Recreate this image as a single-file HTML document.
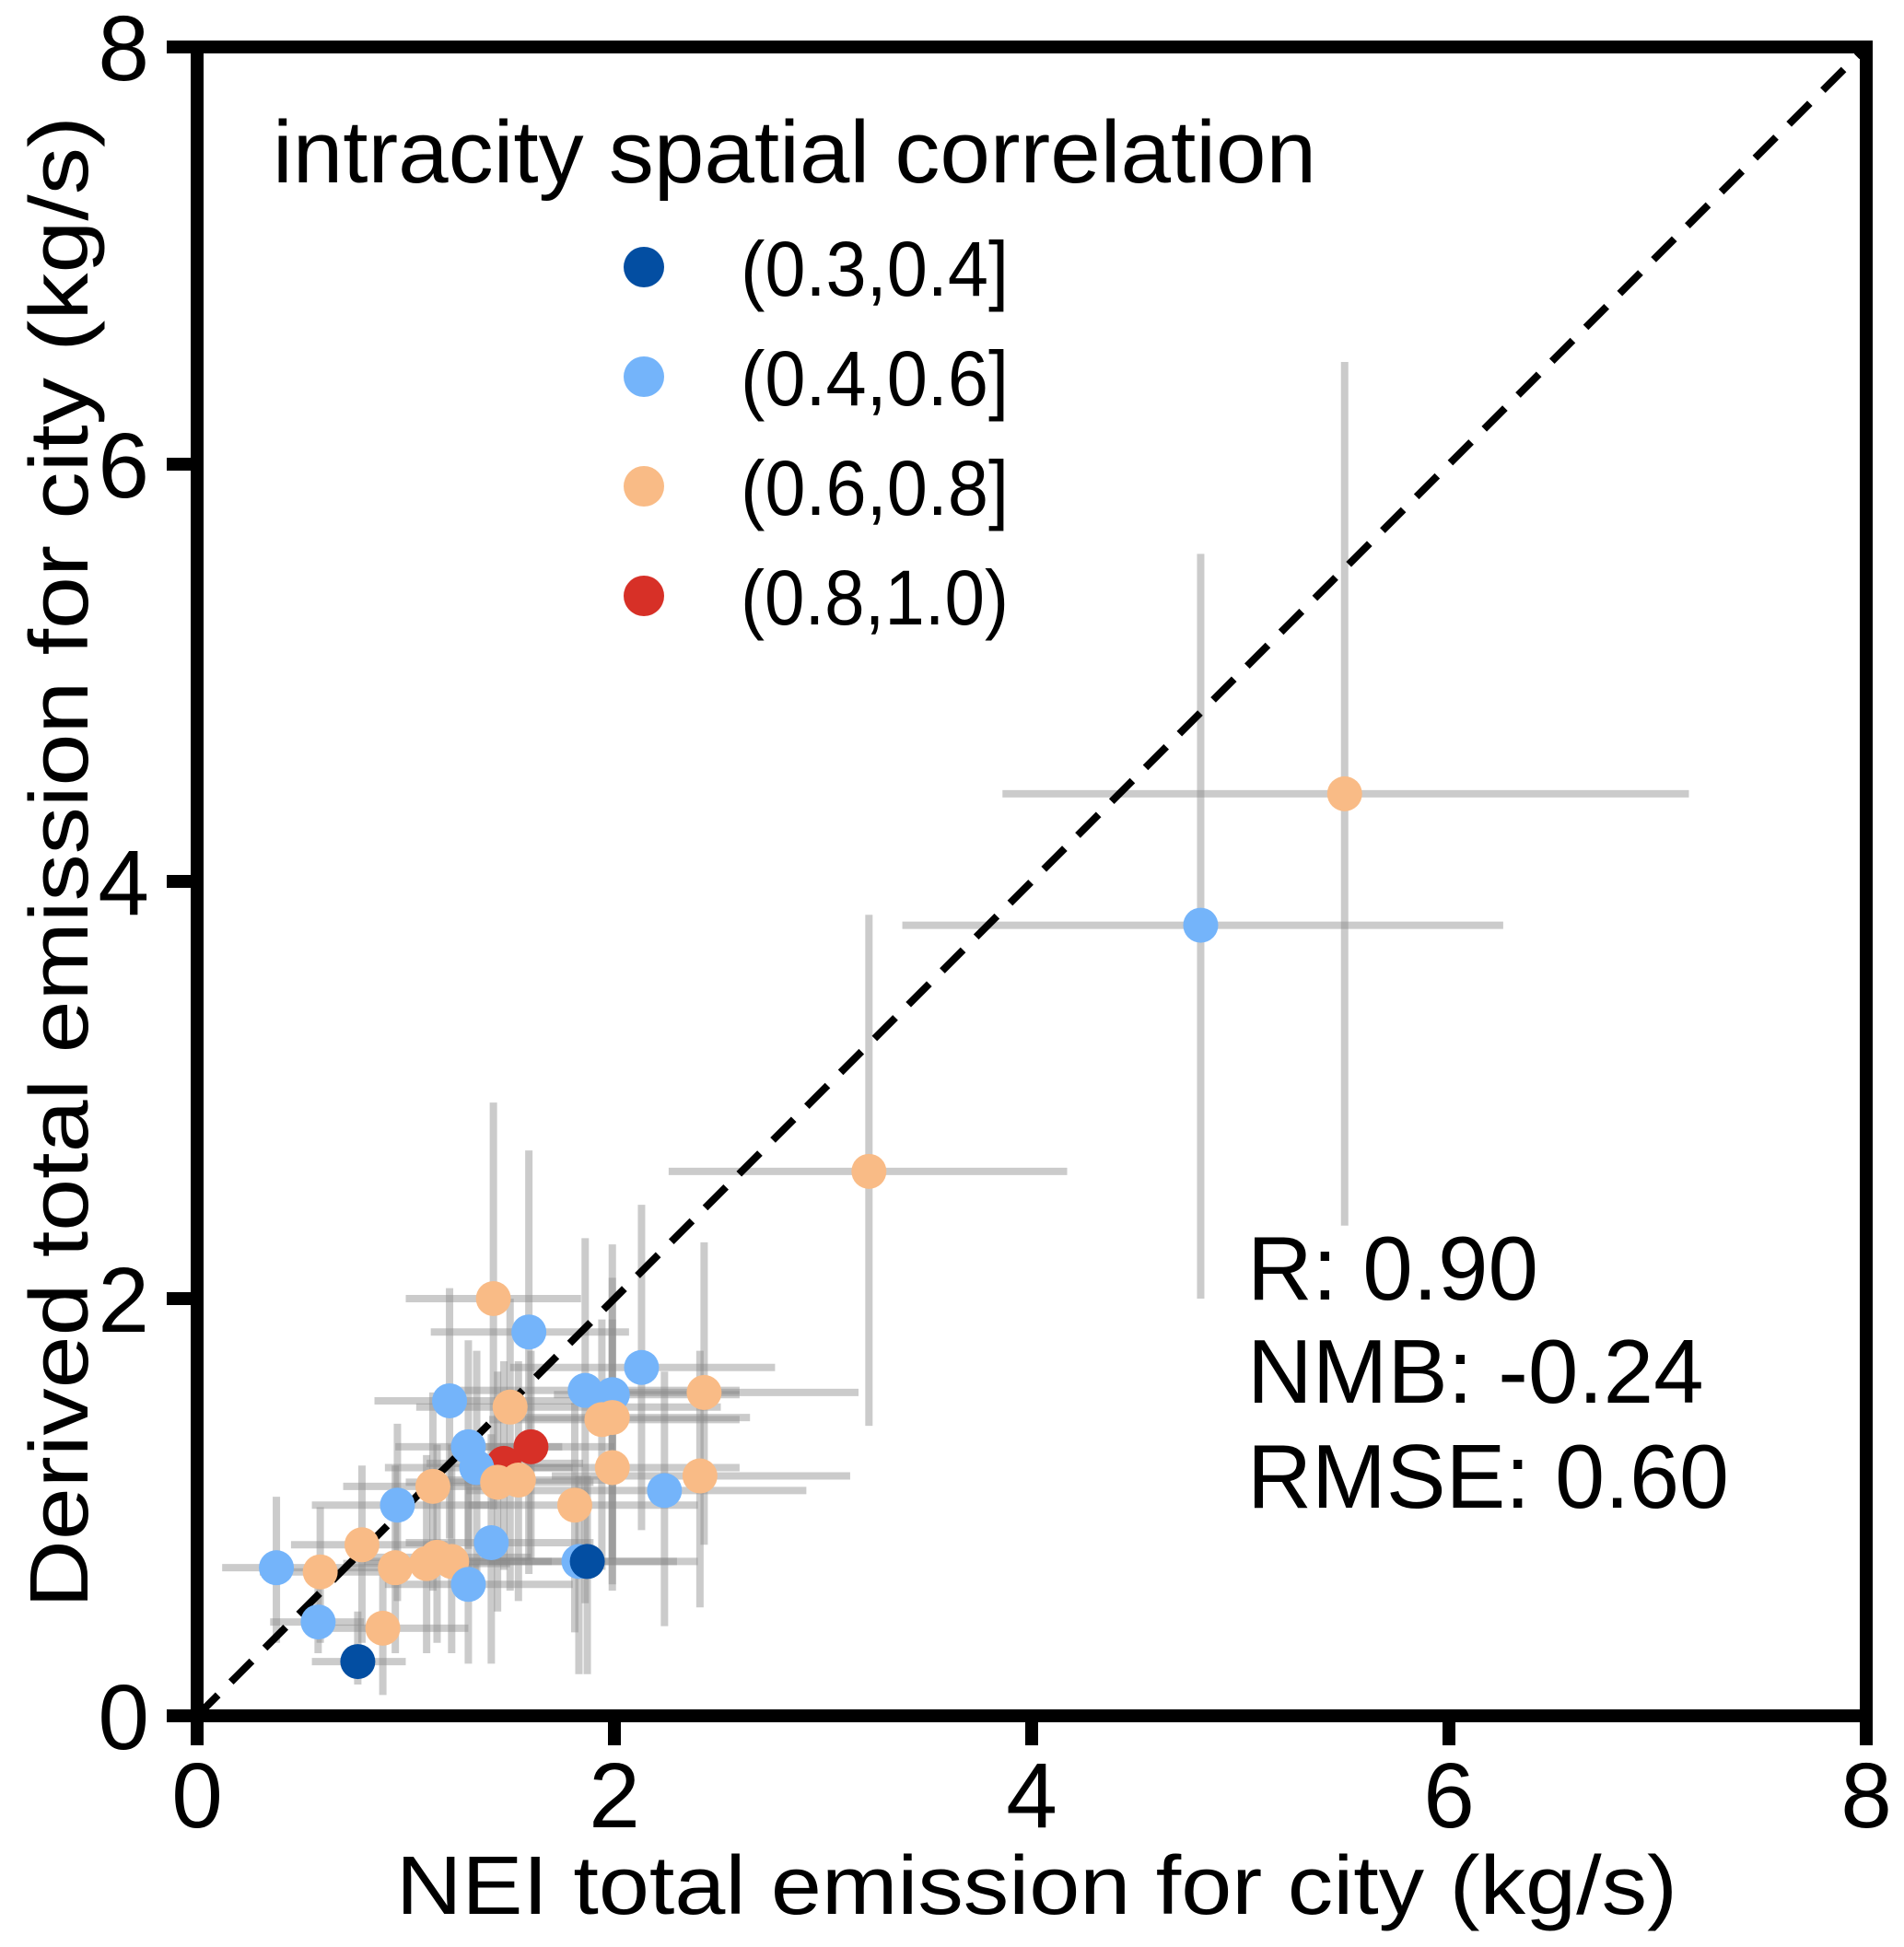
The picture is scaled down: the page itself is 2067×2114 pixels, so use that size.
<!DOCTYPE html>
<html><head><meta charset="utf-8"><style>
html,body{margin:0;padding:0;background:#fff;}
svg{display:block;font-family:"Liberation Sans",Arial,sans-serif;}
</style></head><body>
<svg id="chart" width="2067" height="2114" viewBox="0 0 2067 2114" xmlns="http://www.w3.org/2000/svg">
<g id="errs"></g>
<line id="diag" stroke="#000" stroke-width="8" stroke-dasharray="32,20"/>
<g id="pts"></g>
<g id="axes"></g>
<text x="296" y="198" font-size="96" textLength="1133" lengthAdjust="spacingAndGlyphs">intracity spatial correlation</text>
<g id="legend"></g>
<g font-size="98">
<text x="1354" y="1411">R: 0.90</text>
<text x="1354" y="1523">NMB: -0.24</text>
<text x="1354" y="1637" textLength="523" lengthAdjust="spacingAndGlyphs">RMSE: 0.60</text>
</g>
<text x="430" y="2078" font-size="90" textLength="1391" lengthAdjust="spacingAndGlyphs">NEI total emission for city (kg/s)</text>
<text transform="translate(95,936) rotate(-90)" text-anchor="middle" font-size="90" textLength="1620" lengthAdjust="spacingAndGlyphs">Derived total emission for city (kg/s)</text>
</svg>
<script>
const xTicks=[0,2,4,6,8];
const yTicks=[0,2,4,6,8];
const tickLabels=["0","2","4","6","8"];
const groupColors=["#034ea2","#74b4fa","#f9bb86","#d73027"];
const groupLabels=["(0.3,0.4]","(0.4,0.6]","(0.6,0.8]","(0.8,1.0)"];
const xVals=[5.50,4.81,3.22,1.42,1.59,2.13,1.86,1.99,2.43,1.21,1.50,1.94,1.99,1.47,1.30,1.34,1.54,1.44,1.99,2.41,2.24,1.81,1.13,0.96,0.79,1.41,1.83,1.87,0.95,1.10,1.15,1.22,1.30,0.38,0.59,0.58,0.89,0.77,1.60];
const yVals=[4.42,3.79,2.61,2.00,1.84,1.67,1.56,1.54,1.55,1.51,1.48,1.42,1.43,1.21,1.29,1.19,1.13,1.12,1.19,1.15,1.08,1.01,1.10,1.01,0.82,0.83,0.74,0.74,0.71,0.73,0.76,0.74,0.63,0.71,0.69,0.45,0.42,0.26,1.29];
const groups=[2,1,2,2,1,1,1,1,2,1,2,2,2,3,1,1,2,2,2,2,1,2,2,1,2,1,1,0,2,2,2,2,1,1,2,1,2,0,3];
const xLo=[3.86,3.38,2.26,1.00,1.12,1.50,1.25,1.71,1.90,0.85,1.05,1.40,1.45,1.10,0.95,0.90,1.15,1.00,1.50,1.70,1.29,1.30,0.70,0.55,0.45,1.00,1.30,1.40,0.60,0.70,0.75,0.80,0.90,0.12,0.30,0.35,0.55,0.55,1.25];
const xHi=[7.15,6.26,4.17,1.84,2.07,2.77,2.60,2.60,3.17,1.90,2.51,2.60,2.65,1.85,1.75,1.80,2.00,1.90,2.60,3.13,2.92,2.40,1.60,1.40,1.20,1.90,2.40,2.30,1.35,1.50,1.60,1.70,1.80,0.65,0.90,0.80,1.30,1.00,2.00];
const yLo=[2.35,2.00,1.39,0.99,0.68,0.89,0.54,0.63,0.82,0.85,0.60,0.70,0.75,0.70,0.80,0.65,0.55,0.50,0.60,0.52,0.43,0.40,0.60,0.55,0.35,0.25,0.20,0.20,0.30,0.30,0.35,0.30,0.25,0.35,0.35,0.30,0.10,0.15,0.75];
const yHi=[6.49,5.57,3.84,2.94,2.71,2.45,2.29,2.26,2.27,2.05,2.00,1.90,2.10,1.70,1.80,1.75,1.70,1.65,1.90,1.75,1.65,1.50,1.55,1.40,1.20,1.35,1.15,1.15,1.20,1.25,1.30,1.30,1.20,1.05,1.00,0.75,0.75,0.50,1.75];

const X0=214,X1=2026,Y0=1863,Y1=51,XMAX=8,YMAX=8;
const sx=v=>X0+(X1-X0)*v/XMAX;
const sy=v=>Y0-(Y0-Y1)*v/YMAX;
const NS="http://www.w3.org/2000/svg";
function mk(tag,attrs,parent){const e=document.createElementNS(NS,tag);for(const k in attrs)e.setAttribute(k,attrs[k]);parent.appendChild(e);return e;}

const errs=document.getElementById('errs');
for(let i=0;i<xVals.length;i++){
  const h=mk('line',{x1:sx(xLo[i]),x2:sx(xHi[i]),y1:sy(yVals[i]),y2:sy(yVals[i]),stroke:'rgba(140,140,140,0.45)','stroke-width':8},errs);
  
  
  const v=mk('line',{x1:sx(xVals[i]),x2:sx(xVals[i]),y1:sy(yLo[i]),y2:sy(yHi[i]),stroke:'rgba(140,140,140,0.45)','stroke-width':8},errs);
  
  
}
const d=document.getElementById('diag');
d.setAttribute('x1',sx(0));d.setAttribute('y1',sy(0));d.setAttribute('x2',sx(8));d.setAttribute('y2',sy(8));

const pts=document.getElementById('pts');
for(let i=0;i<xVals.length;i++){
  const c=mk('circle',{cx:sx(xVals[i]),cy:sy(yVals[i]),r:19,fill:groupColors[groups[i]]},pts);
  
  
}

const ax=document.getElementById('axes');
const frame=mk('rect',{x:X0,y:Y1,width:X1-X0,height:Y0-Y1,fill:'none',stroke:'#000','stroke-width':14},ax);


for(let i=0;i<xTicks.length;i++){
  const t=mk('line',{x1:sx(xTicks[i]),x2:sx(xTicks[i]),y1:Y0,y2:Y0+32,stroke:'#000','stroke-width':14},ax);
  
  
  const l=mk('text',{x:sx(xTicks[i]),y:1984,'text-anchor':'middle','font-size':100},ax);
  l.textContent=tickLabels[i];
  
  
}
for(let i=0;i<yTicks.length;i++){
  const t=mk('line',{x1:X0-33,x2:X0,y1:sy(yTicks[i]),y2:sy(yTicks[i]),stroke:'#000','stroke-width':14},ax);
  
  
  const l=mk('text',{x:162,y:sy(yTicks[i])+36,'text-anchor':'end','font-size':100},ax);
  l.textContent=tickLabels[i];
  
  
}

const lg=document.getElementById('legend');
const legY=[290,409,528,647];
for(let i=0;i<groupLabels.length;i++){
  const c=mk('circle',{cx:699,cy:legY[i],r:22,fill:groupColors[i]},lg);
  
  
  const t=mk('text',{x:804,y:legY[i]+31,'font-size':84,textLength:291,lengthAdjust:'spacingAndGlyphs'},lg);
  t.textContent=groupLabels[i];
  
  
}
</script>
</body></html>
